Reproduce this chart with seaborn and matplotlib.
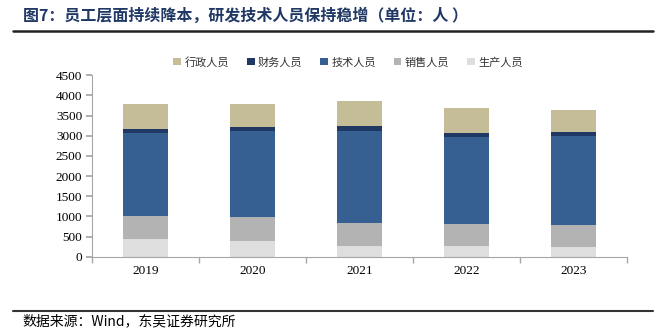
import matplotlib
matplotlib.use("Agg")
import matplotlib.pyplot as plt
import seaborn as sns
import pandas as pd
import numpy as np
from matplotlib.patches import Patch

years = ["2019", "2020", "2021", "2022", "2023"]
categories = ["行政人员", "财务人员", "技术人员", "销售人员", "生产人员"]
admin = [620, 580, 630, 610, 540]
finance = [110, 100, 110, 100, 100]
tech = [2060, 2130, 2280, 2165, 2205]
sales = [570, 580, 570, 545, 545]
production = [430, 400, 270, 265, 240]
yticks = [0, 500, 1000, 1500, 2000, 2500, 3000, 3500, 4000, 4500]

colors = ["#C4BD97", "#1F3864", "#376092", "#B3B3B3", "#DEDEDE"]

sns.set_theme(style="white")
plt.rcParams['font.family'] = ['Noto Sans CJK SC', 'DejaVu Sans']

# cumulative heights (top segment first)
series = [admin, finance, tech, sales, production]
rows = []
for i, cat in enumerate(categories):
    for j, yr in enumerate(years):
        cum = sum(series[k][j] for k in range(i, len(series)))
        rows.append({"year": yr, "cat": cat, "val": cum})
df = pd.DataFrame(rows)

fig = plt.figure(figsize=(6.66, 3.29), dpi=100)
ax = fig.add_axes([92/666, 1-256.7/329, (627-92)/666, (256.7-75.3)/329])

sns.barplot(data=df, x="year", y="val", hue="cat", hue_order=categories,
            palette=colors, dodge=False, width=0.42, saturation=1,
            errorbar=None, legend=False, ax=ax, linewidth=0)

ax.set_ylim(0, 4500)
ax.set_xlim(-0.5, 4.5)
ax.set_yticks(yticks)
ax.set_yticklabels([str(v) for v in yticks], family="Liberation Serif", fontsize=9.5)
ax.set_xticklabels(years, family="Liberation Serif", fontsize=9.5)
ax.set_xlabel("")
ax.set_ylabel("")
for s in ["top", "right"]:
    ax.spines[s].set_visible(False)
for s in ["left", "bottom"]:
    ax.spines[s].set_color("#A6A6A6")
    ax.spines[s].set_linewidth(0.8)
ax.tick_params(axis="y", which="major", direction="out", length=4, color="#A6A6A6",
               left=True, pad=3, labelcolor="#000000")
ax.tick_params(axis="x", which="major", length=0, pad=6, labelcolor="#000000")
ax.set_xticks(np.arange(-0.5, 5.0, 1.0), minor=True)
ax.tick_params(axis="x", which="minor", direction="out", length=4, color="#A6A6A6", bottom=True)

handles = [Patch(facecolor=c, edgecolor="none") for c in colors]
fig.legend(handles, categories, loc="center", bbox_to_anchor=(348/666, 1-62/329),
           ncol=5, frameon=False, fontsize=8, handlelength=0.7, handleheight=0.7,
           handletextpad=0.3, columnspacing=1.6, labelcolor="#333333")

fig.text(23/666, 1-16/329, "图7：员工层面持续降本，研发技术人员保持稳增（单位：人 ）",
         fontsize=11.5, fontweight="bold", color="#1F3864", va="center", ha="left")
fig.add_artist(plt.Line2D([13/666, 653/666], [1-31/329, 1-31/329], color="#222222", linewidth=1.8))
fig.add_artist(plt.Line2D([13/666, 653/666], [1-311/329, 1-311/329], color="#333333", linewidth=1.5))
fig.text(22/666, 1-321/329, "数据来源：Wind，东吴证券研究所", fontsize=10, color="#000000",
         va="center", ha="left", family=["Noto Sans CJK SC", "Liberation Serif"])

fig.savefig("out.png", dpi=100)
